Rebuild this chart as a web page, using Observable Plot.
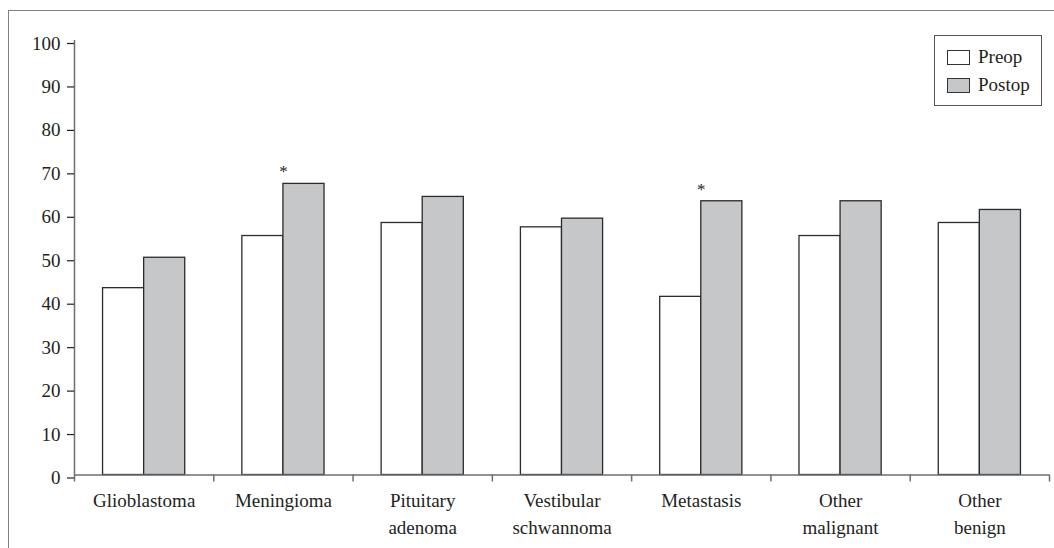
<!DOCTYPE html>
<html>
<head>
<meta charset="utf-8">
<script src="https://cdn.jsdelivr.net/npm/d3@7"></script>
<script src="https://cdn.jsdelivr.net/npm/@observablehq/plot@0.6"></script>
<style>
  html, body { margin: 0; padding: 0; background: #fff; }
  #wrap { position: relative; width: 1054px; height: 548px; overflow: hidden; font-family: "Liberation Serif", serif; color: #231f20; }
  #border { position: absolute; left: 8px; top: 10px; width: 2000px; height: 2000px; border-top: 1.5px solid #808080; border-left: 1.5px solid #808080; }
  #chart { position: absolute; left: 0; top: 0; }
  #legend { position: absolute; left: 934px; top: 35px; width: 106px; height: 69px; border: 1.2px solid #555; background: #fff; font-size: 19px; }
  .item { position: absolute; left: 12px; display: flex; align-items: center; height: 20px; }
  .sw { width: 21px; height: 13px; border: 1.2px solid #333; margin-right: 8px; }
</style>
</head>
<body>
<div id="wrap">
  <div id="border"></div>
  <div id="chart"></div>
  <div id="legend"></div>
</div>
<script>
const categories = ["Glioblastoma", "Meningioma", "Pituitary adenoma", "Vestibular schwannoma", "Metastasis", "Other malignant", "Other benign"];
const tickLabels = ["Glioblastoma", "Meningioma", "Pituitary\nadenoma", "Vestibular\nschwannoma", "Metastasis", "Other\nmalignant", "Other\nbenign"];
const preop = [43, 55, 58, 57, 41, 55, 58];
const postop = [50, 67, 64, 59, 63, 63, 61];
const significant = ["Meningioma", "Metastasis"];
const yTicks = [0, 10, 20, 30, 40, 50, 60, 70, 80, 90, 100];
const seriesNames = ["Preop", "Postop"];
const seriesFills = ["#ffffff", "#c6c7c8"];

const rows = categories.map((c, i) => ({category: c, i, preop: preop[i], postop: postop[i]}));
const w = 0.295; // bar width as fraction of a category slot
const ink = "#231f20";
const axisGray = "#6d6e71";

const chart = Plot.plot({
  width: 1054,
  height: 548,
  marginLeft: 74,
  marginRight: 5,
  marginTop: 40,
  marginBottom: 73.5,
  style: {fontFamily: "'Liberation Serif', serif", fontSize: "19px", color: ink, background: "transparent"},
  x: {domain: [0, categories.length], axis: null},
  y: {domain: [0, 100], axis: null},
  marks: [
    Plot.rect(rows, {x1: d => d.i + 0.5 - w, x2: d => d.i + 0.5, y1: 0, y2: "preop", fill: seriesFills[0], stroke: "#2b2b2b", strokeWidth: 1.3}),
    Plot.rect(rows, {x1: d => d.i + 0.5, x2: d => d.i + 0.5 + w, y1: 0, y2: "postop", fill: seriesFills[1], stroke: "#2b2b2b", strokeWidth: 1.3}),
    Plot.ruleX([0], {y1: 0, y2: 100, stroke: axisGray, strokeWidth: 1.5}),
    Plot.ruleY([0], {stroke: axisGray, strokeWidth: 1.5}),
    Plot.axisY({ticks: yTicks, tickSize: 7, tickPadding: 7, stroke: ink, strokeWidth: 1.2, fill: ink, dy: 3}),
    Plot.axisX({ticks: d3.range(categories.length + 1), tickSize: 7, tickFormat: () => "", stroke: axisGray, strokeWidth: 1.5}),
    Plot.axisX({ticks: categories.map((c, i) => i + 0.5), tickSize: 0, tickPadding: 13, tickFormat: v => tickLabels[Math.floor(v)], lineHeight: 1.42, fill: ink}),
    Plot.text(rows.filter(d => significant.includes(d.category)), {x: d => d.i + 0.5, y: "postop", text: () => "*", dy: -12, fontSize: 17, fill: ink})
  ]
});
document.getElementById("chart").appendChild(chart);

const legend = document.getElementById("legend");
seriesNames.forEach((name, k) => {
  const item = document.createElement("div");
  item.className = "item";
  item.style.top = (11 + k * 28) + "px";
  const sw = document.createElement("div");
  sw.className = "sw";
  sw.style.background = seriesFills[k];
  const label = document.createElement("span");
  label.textContent = name;
  item.appendChild(sw);
  item.appendChild(label);
  legend.appendChild(item);
});
</script>
</body>
</html>
